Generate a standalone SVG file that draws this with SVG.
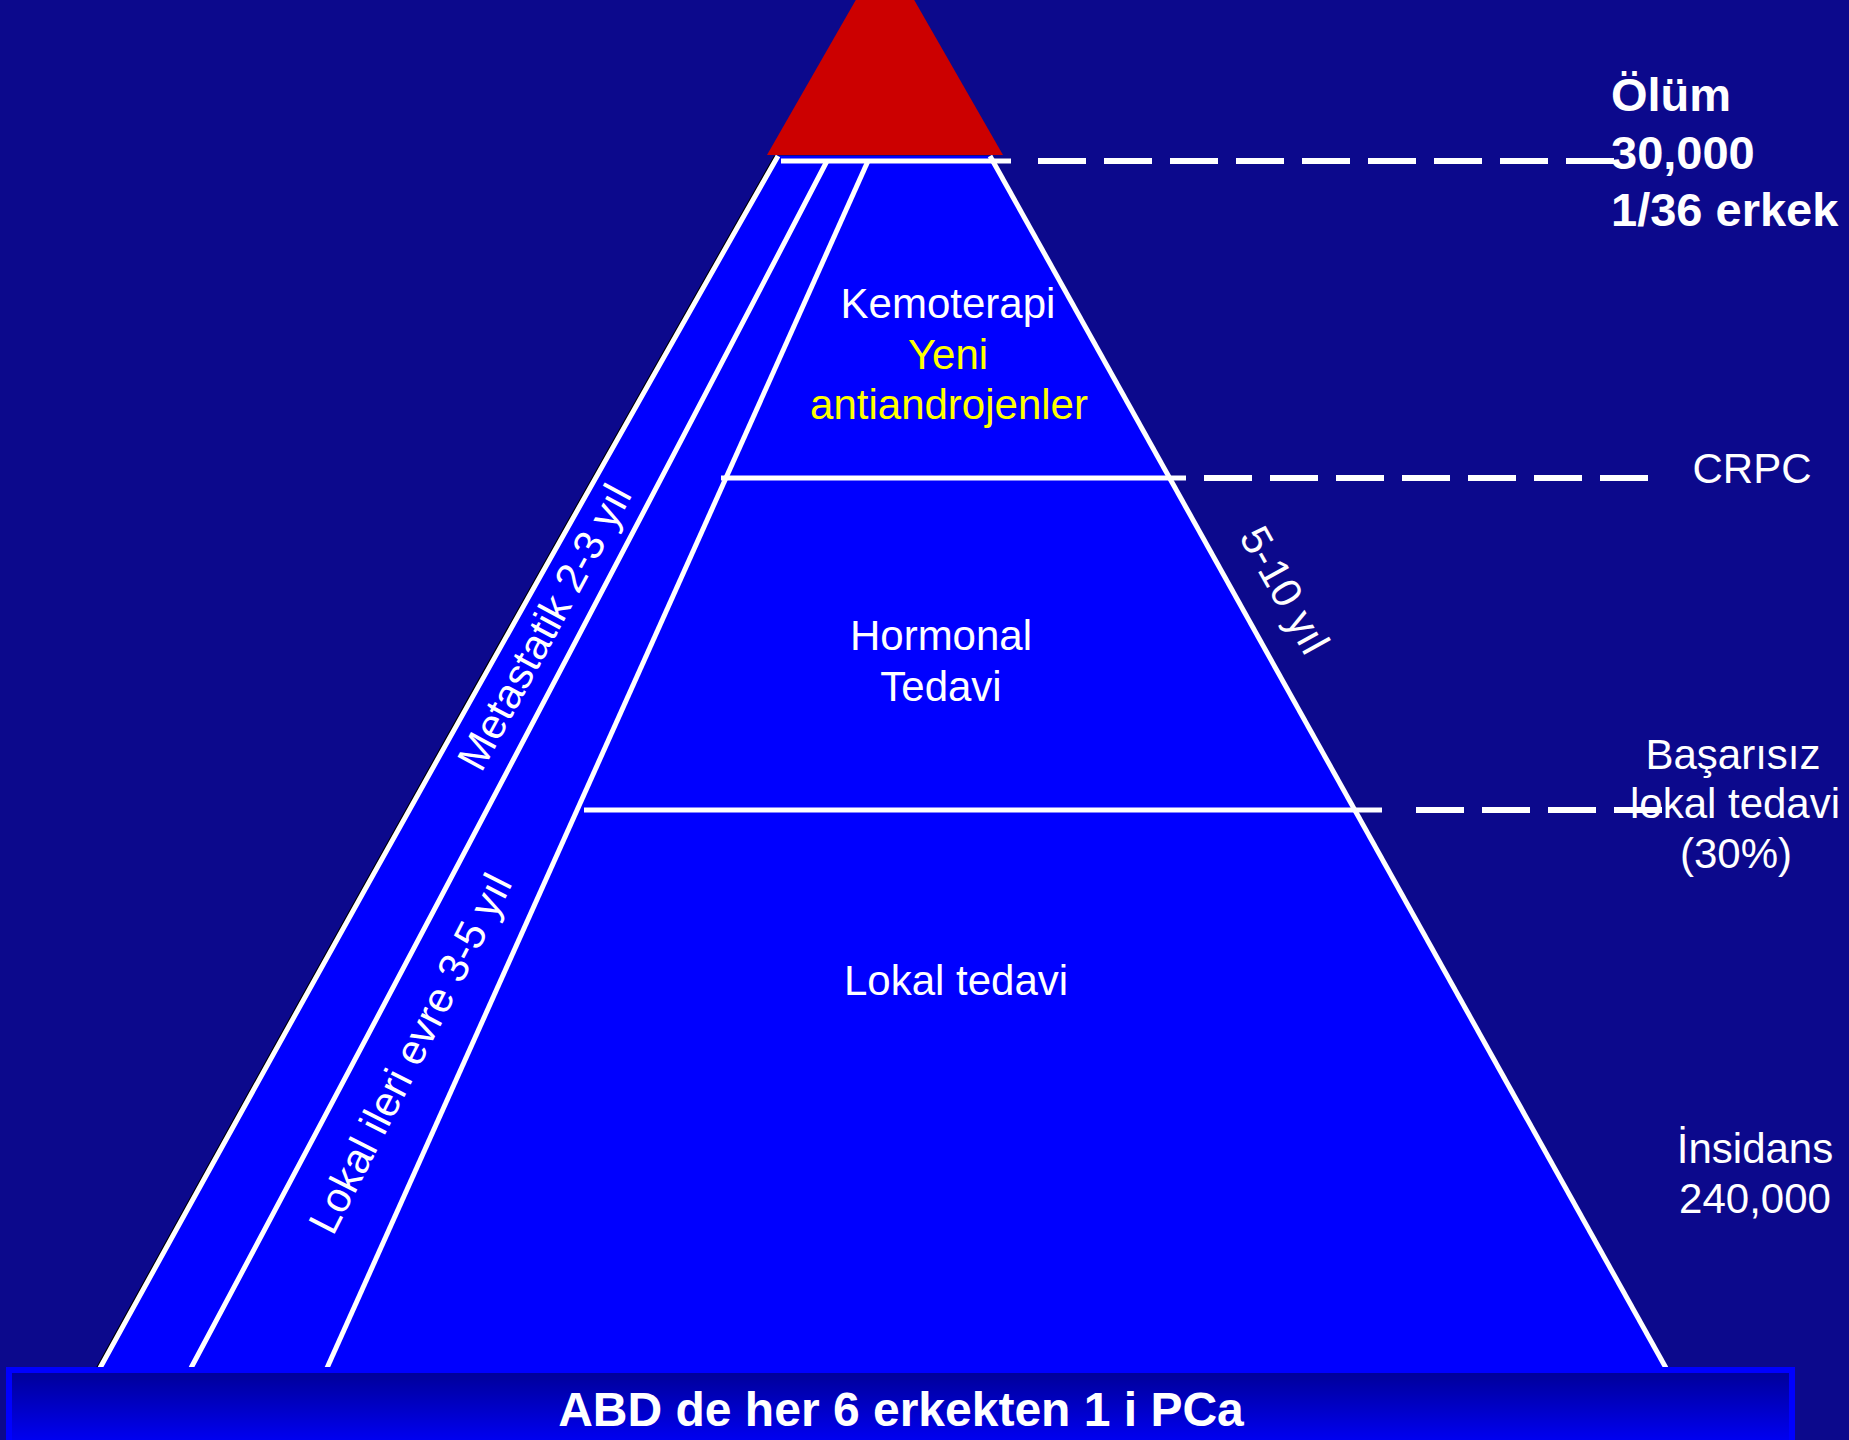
<svg xmlns="http://www.w3.org/2000/svg" width="1849" height="1440" viewBox="0 0 1849 1440">
<defs>
<linearGradient id="boxGrad" gradientUnits="userSpaceOnUse" x1="0" y1="1373" x2="0" y2="1440">
<stop offset="0" stop-color="#00009a"/>
<stop offset="1" stop-color="#0000f0"/>
</linearGradient>
</defs>
<style>
.t{font-family:"Liberation Sans",Arial,sans-serif;font-size:42px;fill:#ffffff}
.b{font-weight:bold;font-size:47px}
.y{fill:#ffff00}
.mid{text-anchor:middle}
.wl{stroke:#ffffff;stroke-width:5;fill:none}
.sh{stroke:#000000;stroke-width:2;fill:none}
.dash{stroke:#ffffff;stroke-width:6;fill:none;stroke-dasharray:48 18}
</style>
<rect width="1849" height="1440" fill="#0c098c"/>

<g id="pyramid">
<path d="M778,156 L990,156 L1666,1368 L100,1368 Q435,759 778,156 Z" fill="#0000ff"/>
<path class="sh" d="M778,156 Q435,759 100,1368" transform="translate(-3,0)"/>
<line class="sh" x1="988" y1="157" x2="1664" y2="1369" transform="translate(3,0)"/>
<path class="wl" d="M778,156 Q435,759 100,1368"/>
<line class="wl" x1="990" y1="156" x2="1666" y2="1368"/>
<path class="wl" d="M827,161 Q514,762 191,1368"/>
<line class="wl" x1="868" y1="161" x2="327" y2="1368"/>
<line class="wl" x1="781" y1="161" x2="1011" y2="161" stroke-width="6"/>
<line class="wl" x1="721" y1="478" x2="1186" y2="478" stroke-width="6"/>
<line class="wl" x1="584" y1="810" x2="1382" y2="810" stroke-width="5"/>
</g>

<g id="apex">
<polygon points="885,-51 1003,155 767,155" fill="#cc0000"/>
</g>

<g id="connectors">
<line class="dash" x1="1038" y1="161" x2="1614" y2="161"/>
<line class="dash" x1="1204" y1="478" x2="1648" y2="478"/>
<line class="dash" x1="1416" y1="810" x2="1662" y2="810" stroke-width="5"/>
</g>

<g id="kemoterapi">
<text class="t mid" x="948" y="318">Kemoterapi</text>
<text class="t mid y" x="948" y="369">Yeni</text>
<text class="t mid y" x="949" y="419">antiandrojenler</text>
</g>

<g id="hormonal">
<text class="t mid" x="941" y="650">Hormonal</text>
<text class="t mid" x="941" y="701">Tedavi</text>
</g>

<g id="lokal">
<text class="t mid" x="956" y="995">Lokal tedavi</text>
</g>

<g id="metastatik">
<text class="t mid" transform="translate(557,634) rotate(-61.5)">Metastatik 2-3 yıl</text>
</g>

<g id="lokal-ileri">
<text class="t mid" transform="translate(423,1060) rotate(-63)">Lokal ileri evre 3-5 yıl</text>
</g>

<g id="sure">
<text class="t mid" transform="translate(1272,597) rotate(60.9)">5-10 yıl</text>
</g>

<g id="olum">
<text class="t b" x="1611" y="111">Ölüm</text>
<text class="t b" x="1611" y="169">30,000</text>
<text class="t b" x="1611" y="226">1/36 erkek</text>
</g>

<g id="crpc">
<text class="t mid" x="1752" y="483">CRPC</text>
</g>

<g id="basarisiz">
<text class="t mid" x="1733" y="769">Başarısız</text>
<text class="t mid" x="1735" y="818">lokal tedavi</text>
<text class="t mid" x="1736" y="868">(30%)</text>
</g>

<g id="insidans">
<text class="t mid" x="1755" y="1163">İnsidans</text>
<text class="t mid" x="1755" y="1213">240,000</text>
</g>

<g id="footer">
<rect x="9" y="1370" width="1783" height="80" fill="url(#boxGrad)" stroke="#0000ff" stroke-width="6"/>
<text class="t b mid" x="901" y="1426" style="font-size:48px">ABD de her 6 erkekten 1 i PCa</text>
</g>
</svg>
